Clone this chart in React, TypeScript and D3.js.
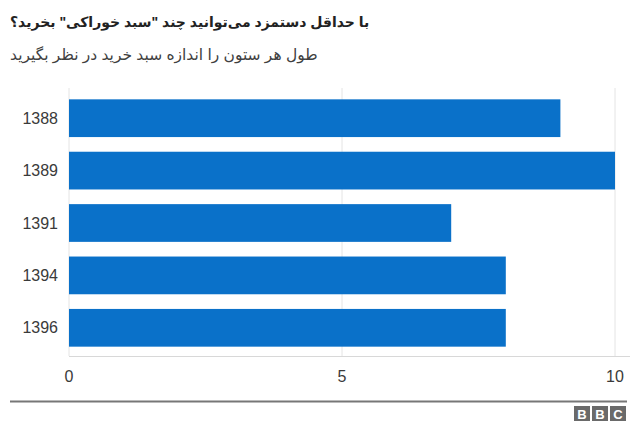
import React from "react";
import * as d3 from "d3";

const categories = ["1388", "1389", "1391", "1394", "1396"];
const values = [9, 10, 7, 8, 8];
const xTicks = [0, 5, 10];
const title = 'با حداقل دستمزد می‌توانید چند "سبد خوراکی" بخرید؟';
const subtitle = "طول هر ستون را اندازه سبد خرید در نظر بگیرید";

export default function App() {
  const W = 640, H = 441;
  const left = 69, right = 615, top = 88, bottom = 356;
  const x = d3.scaleLinear().domain([0, 10]).range([left, right]);
  const y = d3.scaleBand().domain(categories).range([top + 4, bottom - 2]).paddingInner(0.28).paddingOuter(0.14);
  const font = "'Liberation Sans', Arial, 'DejaVu Sans', sans-serif";
  return (
    <svg width={W} height={H} style={{ position: "absolute", left: 0, top: 0, background: "#fff" }} fontFamily={font}>
      <text x={10} y={27} direction="rtl" textAnchor="end" fontSize={14} fontWeight="bold" fill="#222">{title}</text>
      <text x={10} y={60} direction="rtl" textAnchor="end" fontSize={15.5} fill="#404040">{subtitle}</text>
      {xTicks.map((t) => (
        <line key={t} x1={x(t)} x2={x(t)} y1={top} y2={bottom} stroke="#e4e4e4" strokeWidth={1} />
      ))}
      <line x1={left} x2={630} y1={bottom + 0.5} y2={bottom + 0.5} stroke="#d8d8d8" strokeWidth={1} />
      {categories.map((c, i) => (
        <g key={c}>
          <rect x={x(0)} y={y(c)!} width={x(values[i]) - x(0)} height={y.bandwidth()} fill="#0a71c9" />
          <text x={58} y={y(c)! + y.bandwidth() / 2} textAnchor="end" dominantBaseline="central" fontSize={16} fill="#3a3a3a">{c}</text>
        </g>
      ))}
      {xTicks.map((t) => (
        <text key={t} x={x(t)} y={382} textAnchor="middle" fontSize={16} fill="#3a3a3a">{t}</text>
      ))}
      <line x1={10} x2={627} y1={401.5} y2={401.5} stroke="#777" strokeWidth={2} />
      {["B", "B", "C"].map((l, i) => (
        <g key={i}>
          <rect x={574 + i * 18} y={406} width={16} height={15} fill="#6a6a6a" />
          <text x={582 + i * 18} y={418.5} textAnchor="middle" fontSize={13} fontWeight="bold" fill="#fff">{l}</text>
        </g>
      ))}
    </svg>
  );
}
